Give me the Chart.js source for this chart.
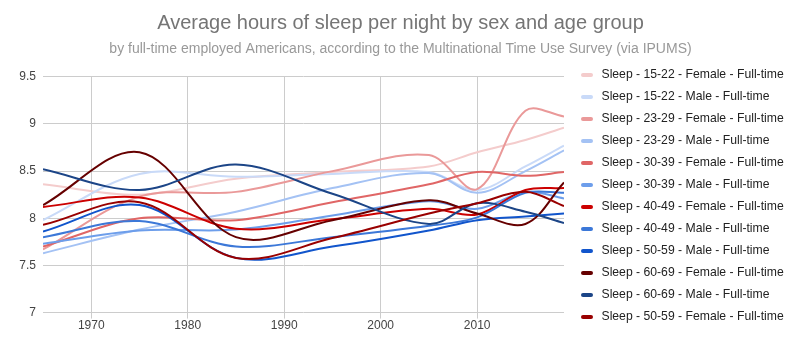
<!DOCTYPE html>
<html>
<head>
<meta charset="utf-8">
<script src="https://cdn.jsdelivr.net/npm/chart.js@4.4.1/dist/chart.umd.min.js"></script>
<style>
  html, body { margin: 0; padding: 0; background: #fff; }
  #wrap { width: 801px; height: 347px; }
</style>
</head>
<body>
<div id="wrap"><canvas id="sleepChart" width="801" height="347"></canvas></div>
<script>
// survey years used as x positions
const years = [1965, 1975, 1985, 1995, 2005, 2010, 2015, 2019];
const xTicks = [1970, 1980, 1990, 2000, 2010];
const yTicks = [7, 7.5, 8, 8.5, 9, 9.5];

const seriesLabels = [
    'Sleep - 15-22 - Female - Full-time',
    'Sleep - 15-22 - Male - Full-time',
    'Sleep - 23-29 - Female - Full-time',
    'Sleep - 23-29 - Male - Full-time',
    'Sleep - 30-39 - Female - Full-time',
    'Sleep - 30-39 - Male - Full-time',
    'Sleep - 40-49 - Female - Full-time',
    'Sleep - 40-49 - Male - Full-time',
    'Sleep - 50-59 - Male - Full-time',
    'Sleep - 60-69 - Female - Full-time',
    'Sleep - 60-69 - Male - Full-time',
    'Sleep - 50-59 - Female - Full-time'
];

const female1522 = [8.36, 8.25, 8.42, 8.49, 8.55, 8.70, 8.83, 8.96];
const male1522   = [7.98, 8.47, 8.44, 8.47, 8.49, 8.30, 8.55, 8.77];
const female2329 = [7.67, 8.23, 8.28, 8.50, 8.67, 8.31, 9.14, 9.08];
const male2329   = [7.63, 7.88, 8.07, 8.32, 8.48, 8.27, 8.50, 8.72];
const female3039 = [7.70, 8.00, 7.98, 8.17, 8.36, 8.49, 8.45, 8.49];
const male3039   = [7.73, 7.87, 7.88, 8.03, 8.18, 8.10, 8.28, 8.21];
const female4049 = [8.12, 8.22, 7.89, 7.99, 8.10, 8.04, 8.30, 8.32];
const male4049   = [7.80, 7.97, 7.70, 7.80, 7.92, 8.01, 8.27, 8.27];
const male5059   = [7.86, 8.14, 7.58, 7.70, 7.87, 7.98, 8.02, 8.05];
const female6069 = [8.14, 8.70, 7.80, 7.98, 8.19, 8.05, 7.94, 8.38];
const male6069   = [8.52, 8.30, 8.57, 8.26, 7.94, 8.16, 8.07, 7.95];
const female5059 = [7.93, 8.17, 7.58, 7.79, 8.05, 8.16, 8.28, 8.13];

const seriesValues = [
    female1522, male1522, female2329, male2329, female3039, male3039,
    female4049, male4049, male5059, female6069, male6069, female5059
];

const colors = [
    '#f4cccc', '#c9daf8', '#ea9999', '#a4c2f4', '#e06666', '#6d9eeb',
    '#cc0000', '#3c78d8', '#1155cc', '#660000', '#1c4587', '#990000'
];

const FONT = "Arial, 'Liberation Sans', sans-serif";

// legend drawn by hand so it can sit as one column beside the plot
const sideLegend = {
    id: 'sideLegend',
    afterDraw(chart) {
        const ctx = chart.ctx;
        ctx.save();
        ctx.font = '12.2px ' + FONT;
        ctx.textBaseline = 'middle';
        ctx.lineCap = 'round';
        ctx.lineWidth = 4;
        chart.data.datasets.forEach((ds, i) => {
            const y = 75 + i * 22;
            ctx.strokeStyle = ds.borderColor;
            ctx.beginPath();
            ctx.moveTo(583, y);
            ctx.lineTo(591, y);
            ctx.stroke();
            ctx.fillStyle = '#222';
            ctx.fillText(ds.label, 601.5, y);
        });
        ctx.restore();
    }
};

const datasets = seriesLabels.map((label, i) => ({
    label: label,
    data: years.map((yr, j) => ({ x: yr, y: seriesValues[i][j] })),
    borderColor: colors[i],
    backgroundColor: colors[i],
    borderWidth: 2,
    pointRadius: 0,
    tension: 0.35,
    fill: false,
    order: seriesLabels.length - i
}));

new Chart(document.getElementById('sleepChart'), {
    type: 'line',
    data: { datasets: datasets },
    options: {
        responsive: false,
        animation: false,
        layout: { padding: { left: 0, right: 0, top: 1, bottom: 14 } },
        plugins: {
            legend: { display: false },
            tooltip: { enabled: false },
            title: {
                display: true,
                text: 'Average hours of sleep per night by sex and age group',
                color: '#757575',
                font: { family: FONT, size: 20, weight: 'normal' },
                padding: { top: 10, bottom: 6 }
            },
            subtitle: {
                display: true,
                text: 'by full-time employed Americans, according to the Multinational Time Use Survey (via IPUMS)',
                color: '#999999',
                font: { family: FONT, size: 14, weight: 'normal' },
                padding: { top: 0, bottom: 19 }
            }
        },
        scales: {
            x: {
                type: 'linear',
                min: years[0],
                max: years[years.length - 1],
                afterBuildTicks: (scale) => { scale.ticks = xTicks.map(v => ({ value: v })); },
                grid: { color: '#cccccc', tickLength: 6, drawTicks: true },
                border: { display: false },
                ticks: { color: '#444', font: { family: FONT, size: 12 }, padding: 0, callback: v => String(v) }
            },
            y: {
                min: yTicks[0],
                max: yTicks[yTicks.length - 1],
                afterBuildTicks: (scale) => { scale.ticks = yTicks.map(v => ({ value: v })); },
                afterFit: (scale) => { scale.width = 43; },
                grid: { color: '#cccccc', drawTicks: false },
                border: { display: false },
                ticks: { color: '#444', font: { family: FONT, size: 12 }, padding: 7, callback: v => String(v) }
            },
            // empty right-hand axis that reserves room for the legend
            legendSpace: {
                type: 'linear',
                position: 'right',
                afterFit: (scale) => { scale.width = 237; },
                grid: { display: false },
                border: { display: false },
                ticks: { display: false }
            }
        }
    },
    plugins: [sideLegend]
});
</script>
</body>
</html>
